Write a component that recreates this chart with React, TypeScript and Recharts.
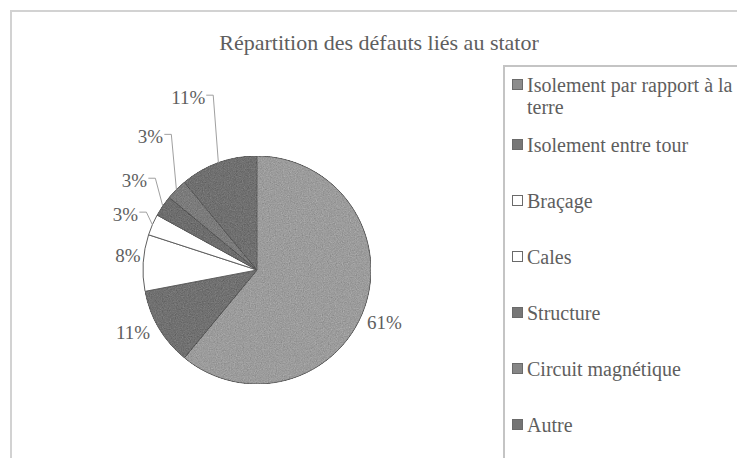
import React from 'react';
import { PieChart, Pie, Cell, Legend } from 'recharts';

const categories = [
  'Isolement par rapport à la terre',
  'Isolement entre tour',
  'Braçage',
  'Cales',
  'Structure',
  'Circuit magnétique',
  'Autre',
];
const percents = [61, 11, 8, 3, 3, 3, 11];
const sliceColors = ['#9c9c9c', '#717171', '#ffffff', '#ffffff', '#6e6e6e', '#7c7c7c', '#707070'];
const legendColors = ['#8c8c8c', '#777777', '#ffffff', '#ffffff', '#777777', '#868686', '#747474'];

const data = categories.map((name, i) => ({ name, value: percents[i] }));

const FONT = '"Liberation Serif", "Times New Roman", serif';
const TEXT = '#5e5e5e';

// label placement tweaks (angle offset in degrees, radius in px)
const LABEL_PLACE = [
  { da: -2.7, r: 138 },
  { da: -3.7, r: 139 },
  { da: -3, r: 130 },
  { da: 0.4, r: 143 },
  { da: -2, r: 152 },
  { da: -6.4, r: 171 },
  { da: 1.9, r: 186 },
];
const RAD = Math.PI / 180;

const renderLabel = (props: any) => {
  const { cx, cy, midAngle, outerRadius, index, value } = props;
  const p = LABEL_PLACE[index];
  const a = (midAngle + p.da) * RAD;
  const x = cx + p.r * Math.cos(a);
  const y = cy - p.r * Math.sin(a);
  const txt = `${value}%`;
  const w = txt.length === 3 ? 32 : 24;
  let line = null;
  if (index >= 3) {
    const ex = cx + outerRadius * Math.cos(midAngle * RAD);
    const ey = cy - outerRadius * Math.sin(midAngle * RAD);
    const sx = x + w / 2 + 2;
    const sy = y - 2;
    line = (
      <polyline
        points={`${sx},${sy} ${sx + 7},${sy} ${ex},${ey}`}
        fill="none"
        stroke="#a0a0a0"
        strokeWidth={1}
      />
    );
  }
  return (
    <g key={`lbl-${index}`}>
      {line}
      <text
        x={x}
        y={y}
        textAnchor="middle"
        dominantBaseline="central"
        fill={TEXT}
        style={{ fontFamily: FONT, fontSize: 19 }}
      >
        {txt}
      </text>
    </g>
  );
};

const renderLegend = () => (
  <div
    style={{
      boxSizing: 'border-box',
      width: 260,
      height: 420,
      borderLeft: '2px solid #c4c4c4',
      borderTop: '2px solid #c4c4c4',
      paddingTop: 7,
      paddingLeft: 7,
      fontFamily: FONT,
      fontSize: 20,
      color: TEXT,
    }}
  >
    {categories.map((name, i) => (
      <div
        key={name}
        style={{
          display: 'flex',
          alignItems: 'flex-start',
          height: i === 0 ? 60 : 56,
          lineHeight: '22px',
        }}
      >
        <span
          style={{
            display: 'inline-block',
            width: 11,
            height: 11,
            marginTop: 5,
            marginRight: 4,
            flex: '0 0 auto',
            background: legendColors[i],
            border: '1px solid #6a6a6a',
            boxSizing: 'border-box',
          }}
        />
        <span style={{ width: 212, whiteSpace: 'normal' }}>{name}</span>
      </div>
    ))}
  </div>
);

export default function App() {
  return (
    <div
      style={{
        position: 'absolute',
        left: 0,
        top: 0,
        width: 737,
        height: 458,
        overflow: 'hidden',
        background: '#ffffff',
      }}
    >
      <svg width={0} height={0} style={{ position: 'absolute' }}>
        <defs>
          <filter id="grain" x="0%" y="0%" width="100%" height="100%" colorInterpolationFilters="sRGB">
            <feTurbulence type="fractalNoise" baseFrequency="0.85" numOctaves={2} seed={7} result="n" />
            <feColorMatrix
              in="n"
              type="matrix"
              values="0.33 0.33 0.33 0 0  0.33 0.33 0.33 0 0  0.33 0.33 0.33 0 0  0 0 0 0 1"
              result="g"
            />
            <feComposite in="SourceGraphic" in2="g" operator="arithmetic" k1={0} k2={1} k3={0.35} k4={-0.175} result="m" />
            <feComposite in="m" in2="SourceGraphic" operator="in" />
          </filter>
        </defs>
      </svg>
      <div
        style={{
          position: 'absolute',
          left: 10,
          top: 10,
          width: 760,
          height: 480,
          border: '2px solid #d2d2d2',
        }}
      />
      <div
        style={{
          position: 'absolute',
          left: 0,
          top: 28,
          width: 758,
          textAlign: 'center',
          fontFamily: FONT,
          fontSize: 22,
          color: TEXT,
          lineHeight: '30px',
        }}
      >
        Répartition des défauts liés au stator
      </div>
      <div style={{ position: 'absolute', left: 0, top: 0 }}>
        <PieChart width={737} height={458} margin={{ top: 0, right: 0, bottom: 0, left: 0 }}>
          <Pie
            data={data}
            dataKey="value"
            nameKey="name"
            cx={257}
            cy={270}
            outerRadius={114}
            startAngle={90}
            endAngle={-270}
            stroke="#5f5f5f"
            strokeWidth={1}
            label={renderLabel}
            labelLine={false}
            isAnimationActive={false}
          >
            {data.map((d, i) => (
              <Cell
                key={d.name}
                fill={sliceColors[i]}
                stroke="#5f5f5f"
                style={sliceColors[i] === '#ffffff' ? undefined : { filter: 'url(#grain)' }}
              />
            ))}
          </Pie>
          <Legend
            content={renderLegend}
            wrapperStyle={{ position: 'absolute', left: 503, top: 65, width: 260, height: 420 }}
          />
        </PieChart>
      </div>
    </div>
  );
}
